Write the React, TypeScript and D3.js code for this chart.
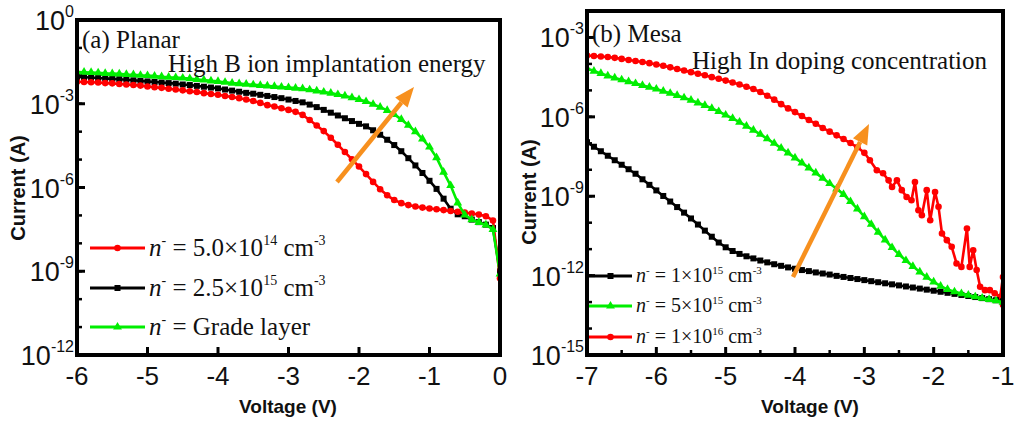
import React from "react";
import * as d3 from "d3";

// ---------- Panel (a) Planar : voltage (V) and log10(current / A) ----------
const VOLT_A = [
  -6.0, -5.9, -5.8, -5.7, -5.6, -5.5, -5.4, -5.3, -5.2, -5.1,
  -5.0, -4.9, -4.8, -4.7, -4.6, -4.5, -4.4, -4.3, -4.2, -4.1,
  -4.0, -3.9, -3.8, -3.7, -3.6, -3.5, -3.4, -3.3, -3.2, -3.1,
  -3.0, -2.9, -2.8, -2.7, -2.6, -2.5, -2.4, -2.3, -2.2, -2.1,
  -2.0, -1.9, -1.8, -1.7, -1.6, -1.5, -1.4, -1.3, -1.2, -1.1,
  -1.0, -0.9, -0.8, -0.7, -0.6, -0.5, -0.4, -0.3, -0.2, -0.1, 0.0,
];
const LOGI_A_5E14 = [
  -2.21, -2.22, -2.23, -2.24, -2.26, -2.27, -2.29, -2.31, -2.33, -2.35,
  -2.38, -2.41, -2.43, -2.46, -2.49, -2.52, -2.55, -2.58, -2.62, -2.65,
  -2.68, -2.72, -2.76, -2.80, -2.85, -2.90, -2.97, -3.05, -3.10, -3.16,
  -3.22, -3.29, -3.40, -3.58, -3.78, -3.98, -4.22, -4.47, -4.73, -4.99,
  -5.25, -5.52, -5.80, -6.06, -6.28, -6.45, -6.56, -6.63, -6.68, -6.72,
  -6.75, -6.78, -6.81, -6.84, -6.87, -6.90, -6.93, -6.97, -7.03, -7.18, -9.25,
];
const LOGI_A_2P5E15 = [
  -2.04, -2.05, -2.06, -2.08, -2.09, -2.11, -2.12, -2.14, -2.16, -2.18,
  -2.20, -2.22, -2.24, -2.26, -2.28, -2.31, -2.33, -2.36, -2.39, -2.42,
  -2.45, -2.49, -2.53, -2.57, -2.61, -2.64, -2.68, -2.72, -2.76, -2.80,
  -2.85, -2.90, -2.95, -3.03, -3.12, -3.22, -3.32, -3.42, -3.52, -3.62,
  -3.72, -3.81, -3.95, -4.11, -4.29, -4.48, -4.70, -4.95, -5.21, -5.48,
  -5.76, -6.05, -6.40, -6.76, -6.96, -7.03, -7.15, -7.24, -7.33, -7.45, -9.0,
];
const LOGI_A_GRADE = [
  -1.86, -1.87, -1.88, -1.89, -1.91, -1.92, -1.93, -1.95, -1.96, -1.98,
  -1.99, -2.01, -2.03, -2.05, -2.06, -2.08, -2.10, -2.13, -2.15, -2.18,
  -2.20, -2.23, -2.26, -2.28, -2.30, -2.32, -2.34, -2.36, -2.38, -2.40,
  -2.42, -2.44, -2.46, -2.50, -2.54, -2.58, -2.62, -2.67, -2.72, -2.78,
  -2.85, -2.92, -3.02, -3.12, -3.24, -3.38, -3.56, -3.77, -4.00, -4.26,
  -4.55, -4.93, -5.45, -5.93, -6.55, -6.98, -7.15, -7.25, -7.34, -7.50, -9.1,
];

// ---------- Panel (b) Mesa ----------
const VOLT_B = [
  -7.0, -6.9, -6.8, -6.7, -6.6, -6.5, -6.4, -6.3, -6.2, -6.1,
  -6.0, -5.9, -5.8, -5.7, -5.6, -5.5, -5.4, -5.3, -5.2, -5.1,
  -5.0, -4.9, -4.8, -4.7, -4.6, -4.5, -4.4, -4.3, -4.2, -4.1,
  -4.0, -3.9, -3.8, -3.7, -3.6, -3.5, -3.4, -3.3, -3.2, -3.1,
  -3.0, -2.9, -2.8, -2.7, -2.6, -2.5, -2.4, -2.3, -2.2, -2.1,
  -2.0, -1.9, -1.8, -1.7, -1.6, -1.5, -1.4, -1.3, -1.2, -1.1, -1.0,
];
const LOGI_B_1E15 = [
  -6.96, -7.13, -7.30, -7.47, -7.64, -7.81, -7.98, -8.15, -8.36, -8.57,
  -8.78, -8.99, -9.20, -9.41, -9.62, -9.84, -10.07, -10.30, -10.53, -10.75,
  -10.93, -11.07, -11.18, -11.27, -11.35, -11.43, -11.50, -11.57, -11.63, -11.69,
  -11.74, -11.79, -11.83, -11.88, -11.92, -11.96, -12.01, -12.05, -12.09, -12.13,
  -12.17, -12.21, -12.25, -12.29, -12.33, -12.37, -12.41, -12.45, -12.49, -12.53,
  -12.57, -12.61, -12.65, -12.69, -12.73, -12.77, -12.81, -12.85, -12.89, -12.93, -12.97,
];
const LOGI_B_5E15 = [
  -4.17, -4.27, -4.36, -4.45, -4.53, -4.60, -4.67, -4.74, -4.81, -4.88,
  -4.95, -5.03, -5.11, -5.19, -5.28, -5.37, -5.47, -5.57, -5.68, -5.80,
  -5.93, -6.06, -6.20, -6.35, -6.50, -6.66, -6.83, -7.00, -7.18, -7.36,
  -7.55, -7.74, -7.93, -8.12, -8.32, -8.52, -8.72, -8.93, -9.20, -9.48,
  -9.77, -10.06, -10.36, -10.65, -10.94, -11.20, -11.43, -11.65, -11.86, -12.06,
  -12.24, -12.40, -12.52, -12.61, -12.68, -12.74, -12.80, -12.85, -12.90, -12.95, -13.0,
];
// the 1e16 curve is noisy at low current and was read at its own voltages
const VOLT_B_1E16 = [
  -7.0, -6.9, -6.8, -6.7, -6.6, -6.5, -6.4, -6.3, -6.2, -6.1,
  -6.0, -5.9, -5.8, -5.7, -5.6, -5.5, -5.4, -5.3, -5.2, -5.1,
  -5.0, -4.9, -4.8, -4.7, -4.6, -4.5, -4.4, -4.3, -4.2, -4.1,
  -4.0, -3.9, -3.8, -3.7, -3.6, -3.5, -3.4, -3.3, -3.2, -3.1, -3.0,
  -2.92, -2.82, -2.73, -2.65, -2.60, -2.53, -2.46, -2.39, -2.32, -2.27,
  -2.22, -2.17, -2.10, -2.05, -1.98, -1.93, -1.88, -1.81, -1.74, -1.67,
  -1.60, -1.52, -1.48, -1.43, -1.38, -1.33, -1.26, -1.19, -1.12, -1.04,
  -1.00, -1.00,
];
const LOGI_B_1E16 = [
  -3.68, -3.70, -3.72, -3.74, -3.77, -3.81, -3.85, -3.89, -3.93, -3.97,
  -4.02, -4.07, -4.13, -4.19, -4.25, -4.31, -4.37, -4.43, -4.50, -4.56,
  -4.63, -4.70, -4.78, -4.86, -4.95, -5.06, -5.20, -5.35, -5.52, -5.68,
  -5.82, -5.97, -6.12, -6.26, -6.42, -6.56, -6.70, -6.84, -6.99, -7.15, -7.36,
  -7.64, -8.02, -8.13, -8.40, -8.65, -8.40, -8.77, -9.03, -9.15, -8.46,
  -9.53, -9.72, -8.77, -9.91, -8.84, -9.40, -10.41, -10.66, -10.91, -11.54,
  -11.67, -10.22, -11.67, -11.04, -11.79, -12.42, -12.55, -12.55, -12.67, -12.80,
  -12.05, -13.10,
];

const X_TICKS_A = [-6, -5, -4, -3, -2, -1, 0];
const X_TICKS_B = [-7, -6, -5, -4, -3, -2, -1];
const X_MINOR_B = [-6.5, -5.5, -4.5, -3.5, -2.5, -1.5];
const Y_EXP_A = [0, -3, -6, -9, -12];
const Y_EXP_B = [-3, -6, -9, -12, -15];

const RED = "#ff0000";
const BLACK = "#000000";
const GREEN = "#00ee00";
const ORANGE = "#f7901e";
const SANS = "Liberation Sans, Arial, sans-serif";
const SERIF = "Liberation Serif, Times New Roman, serif";

type Series = { v: number[]; logI: number[]; color: string; marker: "circle" | "square" | "triangle" };

function Marker({ x, y, kind, color, s = 1 }: { x: number; y: number; kind: string; color: string; s?: number }) {
  if (kind === "circle") return <circle cx={x} cy={y} r={3.3 * s} fill={color} />;
  if (kind === "square") return <rect x={x - 3 * s} y={y - 3 * s} width={6 * s} height={6 * s} fill={color} />;
  const p = d3.symbol(d3.symbolTriangle, 34 * s * s)();
  return <path d={p || ""} transform={`translate(${x},${y})`} fill={color} />;
}

function Panel({
  box, xDomain, yDomain, series, xTicks, xMinor, yExps, clipId,
}: {
  box: { x0: number; x1: number; y0: number; y1: number };
  xDomain: [number, number]; yDomain: [number, number];
  series: Series[]; xTicks: number[]; xMinor: number[]; yExps: number[]; clipId: string;
}) {
  const x = d3.scaleLinear().domain(xDomain).range([box.x0, box.x1]);
  const y = d3.scaleLog().domain(yDomain).range([box.y1, box.y0]);
  const yMinorExps = d3.range(Math.round(Math.log10(yDomain[0])), Math.round(Math.log10(yDomain[1])) + 1);
  return (
    <g>
      <defs>
        <clipPath id={clipId}>
          <rect x={box.x0} y={box.y0 - 2} width={box.x1 - box.x0 + 2} height={box.y1 - box.y0 + 4} />
        </clipPath>
      </defs>
      <g clipPath={`url(#${clipId})`}>
        {series.map((s, i) => {
          const pts = s.v.map((v, k) => [x(v), y(Math.pow(10, s.logI[k]))] as [number, number]);
          const line = d3.line()(pts) || "";
          return (
            <g key={i}>
              <path d={line} fill="none" stroke={s.color} strokeWidth={2.6} strokeLinejoin="round" />
              {pts.map((p, k) => <Marker key={k} x={p[0]} y={p[1]} kind={s.marker} color={s.color} />)}
            </g>
          );
        })}
      </g>
      {yMinorExps.map((e) => (
        <line key={"ym" + e} x1={box.x0} x2={box.x0 + 5} y1={y(Math.pow(10, e))} y2={y(Math.pow(10, e))} stroke="#000" strokeWidth={2.5} />
      ))}
      {yExps.map((e) => (
        <line key={"yM" + e} x1={box.x0} x2={box.x0 + 8} y1={y(Math.pow(10, e))} y2={y(Math.pow(10, e))} stroke="#000" strokeWidth={3} />
      ))}
      {xMinor.map((t) => (
        <line key={"xm" + t} x1={x(t)} x2={x(t)} y1={box.y1} y2={box.y1 - 5} stroke="#000" strokeWidth={2.5} />
      ))}
      {xTicks.map((t) => (
        <line key={"xM" + t} x1={x(t)} x2={x(t)} y1={box.y1} y2={box.y1 - 8} stroke="#000" strokeWidth={3} />
      ))}
      <rect x={box.x0} y={box.y0} width={box.x1 - box.x0} height={box.y1 - box.y0} fill="none" stroke="#000" strokeWidth={4} />
      {xTicks.map((t) => (
        <text key={"xl" + t} x={x(t)} y={box.y1 + 30} textAnchor="middle" fontFamily={SANS} fontSize={26} fill="#111">
          {t === 0 ? "0" : String(t)}
        </text>
      ))}
      {yExps.map((e) => (
        <text key={"yl" + e} x={box.x0 - 3} y={y(Math.pow(10, e)) + 10} textAnchor="end" fontFamily={SANS} fontSize={27} fill="#111">
          <tspan>10</tspan>
          <tspan fontSize={16} dy={-13}>{String(e)}</tspan>
        </text>
      ))}
    </g>
  );
}

function LegendRow({ x, y, color, kind, lineLen, fs, parts }: {
  x: number; y: number; color: string; kind: string; lineLen: number; fs: number;
  parts: { main: string; sup1: string; tail?: string; sup2?: string };
}) {
  const sup = Math.round(fs * 0.56);
  const up = Math.round(fs * 0.42);
  return (
    <g>
      <line x1={x} x2={x + lineLen} y1={y} y2={y} stroke={color} strokeWidth={2.8} />
      <Marker x={x + lineLen / 2} y={y} kind={kind} color={color} />
      <text x={x + lineLen + 4} y={y + fs * 0.3} fontFamily={SERIF} fontSize={fs} fill="#111" style={{ whiteSpace: "pre" }}>
        <tspan fontStyle="italic">n</tspan>
        <tspan fontSize={sup} dy={-up}>-</tspan>
        <tspan dy={up}>{parts.main}</tspan>
        {parts.sup1 ? <tspan fontSize={sup} dy={-up}>{parts.sup1}</tspan> : null}
        {parts.tail ? <tspan dy={up}>{parts.tail}</tspan> : null}
        {parts.sup2 ? <tspan fontSize={sup} dy={-up}>{parts.sup2}</tspan> : null}
      </text>
    </g>
  );
}

function Arrow({ x1, y1, x2, y2 }: { x1: number; y1: number; x2: number; y2: number }) {
  const ang = Math.atan2(y2 - y1, x2 - x1);
  const hl = 20, hw = 8;
  const bx = x2 - hl * Math.cos(ang), by = y2 - hl * Math.sin(ang);
  const px = -Math.sin(ang), py = Math.cos(ang);
  return (
    <g>
      <line x1={x1} y1={y1} x2={bx} y2={by} stroke={ORANGE} strokeWidth={4.5} />
      <polygon points={`${x2},${y2} ${bx + px * hw},${by + py * hw} ${bx - px * hw},${by - py * hw}`} fill={ORANGE} />
    </g>
  );
}

export default function App() {
  const boxA = { x0: 77, x1: 500, y0: 20, y1: 355 };
  const boxB = { x0: 587, x1: 1003, y0: 11, y1: 355 };
  const seriesA: Series[] = [
    { v: VOLT_A, logI: LOGI_A_2P5E15, color: BLACK, marker: "square" },
    { v: VOLT_A, logI: LOGI_A_5E14, color: RED, marker: "circle" },
    { v: VOLT_A, logI: LOGI_A_GRADE, color: GREEN, marker: "triangle" },
  ];
  const seriesB: Series[] = [
    { v: VOLT_B_1E16, logI: LOGI_B_1E16, color: RED, marker: "circle" },
    { v: VOLT_B, logI: LOGI_B_1E15, color: BLACK, marker: "square" },
    { v: VOLT_B, logI: LOGI_B_5E15, color: GREEN, marker: "triangle" },
  ];
  return (
    <svg width={1015} height={425} style={{ position: "absolute", left: 0, top: 0, background: "#fff" }}>
      <rect width={1015} height={425} fill="#fff" />
      <Panel box={boxA} xDomain={[-6, 0]} yDomain={[1e-12, 1]} series={seriesA} xTicks={X_TICKS_A} xMinor={[]} yExps={Y_EXP_A} clipId="clipA" />
      <Panel box={boxB} xDomain={[-7, -1]} yDomain={[1e-15, 1e-2]} series={seriesB} xTicks={X_TICKS_B} xMinor={X_MINOR_B} yExps={Y_EXP_B} clipId="clipB" />

      <text x={288} y={413} textAnchor="middle" fontFamily={SANS} fontWeight="bold" fontSize={19} fill="#111">Voltage (V)</text>
      <text x={810} y={413} textAnchor="middle" fontFamily={SANS} fontWeight="bold" fontSize={19} fill="#111">Voltage (V)</text>
      <text transform="translate(25,188) rotate(-90)" textAnchor="middle" fontFamily={SANS} fontWeight="bold" fontSize={20} fill="#111">Current (A)</text>
      <text transform="translate(536,192) rotate(-90)" textAnchor="middle" fontFamily={SANS} fontWeight="bold" fontSize={20} fill="#111">Current (A)</text>

      <text x={82} y={48} fontFamily={SERIF} fontSize={25} fill="#111">(a) Planar</text>
      <text x={168} y={72} fontFamily={SERIF} fontSize={25} fill="#111">High B ion implantation energy</text>
      <text x={592} y={42} fontFamily={SERIF} fontSize={25} fill="#111">(b) Mesa</text>
      <text x={692} y={69} fontFamily={SERIF} fontSize={25} fill="#111">High In doping concentration</text>
      <Arrow x1={337} y1={182} x2={414} y2={87} />
      <Arrow x1={793} y1={277} x2={869} y2={124} />

      <LegendRow x={90} y={248} color={RED} kind="circle" lineLen={55} fs={25} parts={{ main: " = 5.0×10", sup1: "14", tail: " cm", sup2: "-3" }} />
      <LegendRow x={90} y={288} color={BLACK} kind="square" lineLen={55} fs={25} parts={{ main: " = 2.5×10", sup1: "15", tail: " cm", sup2: "-3" }} />
      <LegendRow x={90} y={327} color={GREEN} kind="triangle" lineLen={55} fs={25} parts={{ main: " = Grade layer", sup1: "" }} />
      <LegendRow x={589} y={276} color={BLACK} kind="square" lineLen={43} fs={20} parts={{ main: " = 1×10", sup1: "15", tail: " cm", sup2: "-3" }} />
      <LegendRow x={589} y={306} color={GREEN} kind="triangle" lineLen={43} fs={20} parts={{ main: " = 5×10", sup1: "15", tail: " cm", sup2: "-3" }} />
      <LegendRow x={589} y={337} color={RED} kind="circle" lineLen={43} fs={20} parts={{ main: " = 1×10", sup1: "16", tail: " cm", sup2: "-3" }} />
    </svg>
  );
}
